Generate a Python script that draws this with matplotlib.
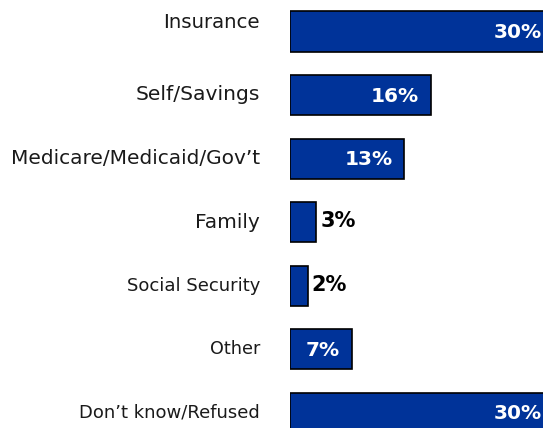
import matplotlib
matplotlib.use("Agg")
import matplotlib.pyplot as plt

categories = ["Insurance", "Self/Savings", "Medicare/Medicaid/Gov\u2019t", "Family",
              "Social Security", "Other", "Don\u2019t know/Refused"]
values = [30, 16, 13, 3, 2, 7, 30]
label_sizes = [14.2, 14.6, 14.5, 14.5, 13, 12.7, 13]
label_shift = [9, 1, 0, 0, 0, 0, 0]  # pixels up, the labels are not evenly placed in the original

BAR_COLOR = "#003399"


def main():
    fig = plt.figure(figsize=(5.43, 4.28), dpi=100)
    # axes runs past the right edge so the 30% bars get cut off like the original
    ax = fig.add_axes([290 / 543, 0, 264 / 543, 1])

    ypos = list(range(len(categories)))
    ax.barh(ypos, values, height=0.63, color=BAR_COLOR, edgecolor="black", linewidth=1.2)

    ax.set_xlim(0, 30)
    ax.set_ylim(6.236, -0.495)
    ax.axis("off")

    for i, v in enumerate(values):
        if v >= 5:
            ax.annotate(f"{v}%", (v, i), xytext=(-12, -1), textcoords="offset pixels",
                        ha="right", va="center", color="white", fontsize=14.5,
                        fontweight="bold", annotation_clip=False)
        else:
            ax.annotate(f"{v}%", (v, i), xytext=(4, 1), textcoords="offset pixels",
                        ha="left", va="center", color="black", fontsize=15,
                        fontweight="bold", annotation_clip=False)

    for i, name in enumerate(categories):
        ax.annotate(name, (0, i), xytext=(-30, label_shift[i]), textcoords="offset pixels",
                    ha="right", va="center", color="#1a1a1a",
                    fontsize=label_sizes[i], annotation_clip=False)

    fig.savefig("out.png", dpi=100)


if __name__ == "__main__":
    main()
